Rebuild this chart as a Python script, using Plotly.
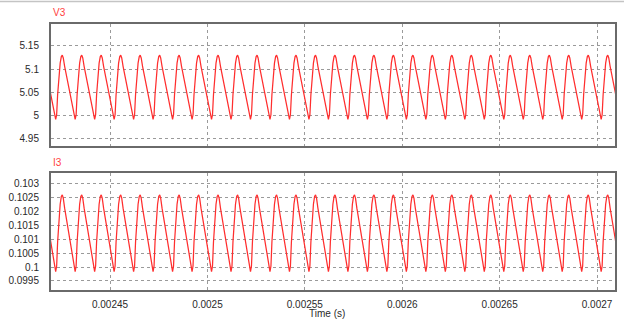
import plotly.graph_objects as go

# ---- data ----
# times (microseconds) of each waveform minimum (one switching period ~10 us)
cycle_min_us = [2412.1, 2422.1, 2432.1, 2442.1, 2452.1, 2462.1, 2472.1, 2482.1,
                2492.1, 2502.1, 2512.1, 2522.1, 2532.1, 2542.1, 2552.1, 2562.1,
                2572.1, 2582.1, 2592.1, 2602.1, 2612.1, 2622.1, 2632.1, 2642.1,
                2652.1, 2662.1, 2672.1, 2682.1, 2692.1, 2702.1, 2712.1]
# shape of one period, relative to its minimum (us)
shape_tau_us = [0.0, 0.5, 1.0, 1.7, 2.3, 2.9, 3.4, 3.9, 4.6]
v3_shape = [4.992, 5.002, 5.045, 5.090, 5.113, 5.127, 5.130, 5.124, 5.106]
i3_shape = [0.09984, 0.10004, 0.10090, 0.10180, 0.10226, 0.10254, 0.10260, 0.10248, 0.10212]

x_tickvals = [0.00245, 0.0025, 0.00255, 0.0026, 0.00265, 0.0027]
x_ticktext = ["0.00245", "0.0025", "0.00255", "0.0026", "0.00265", "0.0027"]
v_tickvals = [4.95, 5.0, 5.05, 5.1, 5.15]
v_ticktext = ["4.95", "5", "5.05", "5.1", "5.15"]
i_tickvals = [0.0995, 0.1, 0.1005, 0.101, 0.1015, 0.102, 0.1025, 0.103]
i_ticktext = ["0.0995", "0.1", "0.1005", "0.101", "0.1015", "0.102", "0.1025", "0.103"]

# ---- build traces ----
t_all, v_all, i_all = [], [], []
for tm in cycle_min_us:
    for dt, v, i in zip(shape_tau_us, v3_shape, i3_shape):
        t_all.append((tm + dt) * 1e-6)
        v_all.append(v)
        i_all.append(i)

RED = "#ff2e2e"
FONT = "Liberation Sans, Arial, sans-serif"
TXT = "#2a2a2a"

fig = go.Figure()
fig.add_trace(go.Scatter(x=t_all, y=v_all, mode="lines", xaxis="x", yaxis="y",
                         line=dict(color=RED, width=1.25), showlegend=False, hoverinfo="skip"))
fig.add_trace(go.Scatter(x=t_all, y=i_all, mode="lines", xaxis="x2", yaxis="y2",
                         line=dict(color=RED, width=1.25), showlegend=False, hoverinfo="skip"))

xr = [0.0024197, 0.0027092]
common_x = dict(range=xr, tickvals=x_tickvals, ticktext=x_ticktext, automargin=False,
                showgrid=True, gridcolor="#9a9a9a", griddash="3px,3px", gridwidth=1,
                showline=True, mirror=True, linecolor="#6a6a6a", linewidth=2,
                zeroline=False, ticks="", tickfont=dict(family=FONT, size=10, color=TXT))
common_y = dict(showgrid=True, gridcolor="#9a9a9a", griddash="3px,3px", gridwidth=1,
                showline=True, mirror=True, linecolor="#6a6a6a", linewidth=2, automargin=False,
                zeroline=False, ticks="", ticklabelstandoff=8,
                tickfont=dict(family=FONT, size=10, color=TXT))

fig.update_layout(
    width=624, height=327,
    margin=dict(l=51, r=9, t=24, b=37),
    paper_bgcolor="white", plot_bgcolor="white",
    xaxis=dict(domain=[0, 1], anchor="y", showticklabels=False, **common_x),
    yaxis=dict(domain=[0.5432, 1], anchor="x", range=[4.936, 5.197],
               tickvals=v_tickvals, ticktext=v_ticktext, **common_y),
    xaxis2=dict(domain=[0, 1], anchor="y2", matches="x", showticklabels=True,
                ticklabelstandoff=4, **common_x),
    yaxis2=dict(domain=[0, 0.4387], anchor="x2", range=[0.099176, 0.103374],
                tickvals=i_tickvals, ticktext=i_ticktext, **common_y),
    annotations=[
        dict(text="V3", x=0, y=1.0425, xref="paper", yref="paper", xanchor="left",
             yanchor="middle", showarrow=False, font=dict(family=FONT, size=10, color="#ff4040")),
        dict(text="I3", x=0, y=0.4786, xref="paper", yref="paper", xanchor="left",
             yanchor="middle", showarrow=False, font=dict(family=FONT, size=10, color="#ff4040")),
        dict(text="Time (s)", x=0.49, y=-0.0865, xref="paper", yref="paper", xanchor="center",
             yanchor="middle", showarrow=False, font=dict(family=FONT, size=10, color=TXT)),
    ],
    shapes=[
        dict(type="line", xref="paper", yref="paper", x0=-0.1, x1=1.1, y0=1.0846, y1=1.0846,
             line=dict(color="#c4c4c4", width=1.5)),
    ],
)

fig.write_html("out.html", config={"displayModeBar": False},
               post_script="document.body.style.margin='0';document.body.style.overflow='hidden';")
